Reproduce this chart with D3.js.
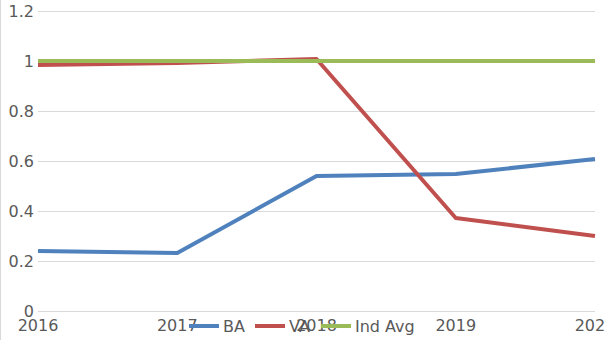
<!DOCTYPE html>
<html><head><meta charset="utf-8">
<script src="https://cdn.jsdelivr.net/npm/d3@7"></script>
<style>body{margin:0;background:#fff;overflow:hidden}svg{display:block}</style>
</head><body>
<svg id="c" width="605" height="340"></svg>
<script>
const years = [2016, 2017, 2018, 2019, 2020];
const baValues = [0.24, 0.232, 0.54, 0.548, 0.608];
const vaValues = [0.984, 0.992, 1.008, 0.372, 0.30];
const indAvgValues = [1, 1, 1, 1, 1];
const yTicks = [0, 0.2, 0.4, 0.6, 0.8, 1, 1.2];
const seriesNames = ["BA", "VA", "Ind Avg"];
const seriesColors = ["#4F81BD", "#C0504D", "#9BBB59"];

const svg = d3.select("#c");
const x = d3.scaleLinear().domain([2016, 2020]).range([38, 595]);
const y = d3.scaleLinear().domain([0, 1.2]).range([311, 11]);
const font = "DejaVu Sans, sans-serif";
const fs = 16;

svg.append("line").attr("x1",0.5).attr("x2",0.5).attr("y1",0).attr("y2",340).attr("stroke","#d9d9d9");

// gridlines
svg.append("g").selectAll("line").data(yTicks).join("line")
  .attr("x1", x(2016)).attr("x2", x(2020))
  .attr("y1", d => Math.round(y(d)) + 0.5).attr("y2", d => Math.round(y(d)) + 0.5)
  .attr("stroke", "#d9d9d9").attr("stroke-width", 1);

// y labels
svg.append("g").selectAll("text").data(yTicks).join("text")
  .attr("x", 34).attr("y", d => y(d) + 6)
  .attr("text-anchor", "end").attr("font-family", font).attr("font-size", fs)
  .attr("fill", "#595959").text(d => d);

// x labels
svg.append("g").selectAll("text").data(years).join("text")
  .attr("x", d => x(d)).attr("y", 331)
  .attr("text-anchor", "middle").attr("font-family", font).attr("font-size", fs)
  .attr("fill", "#595959").text(d => d);

const allSeries = [baValues, vaValues, indAvgValues];
const line = d3.line().x((d, i) => x(years[i])).y(d => y(d));
allSeries.forEach((vals, k) => {
  svg.append("path").attr("d", line(vals)).attr("fill", "none")
    .attr("stroke", seriesColors[k]).attr("stroke-width", 4).attr("stroke-linejoin", "round");
});

// legend
const legendX = [189, 255, 321];
const lg = svg.append("g");
seriesNames.forEach((n, k) => {
  lg.append("line").attr("x1", legendX[k]).attr("x2", legendX[k] + 30)
    .attr("y1", 326).attr("y2", 326).attr("stroke", seriesColors[k]).attr("stroke-width", 4);
  lg.append("text").attr("x", legendX[k] + 34).attr("y", 332)
    .attr("font-family", font).attr("font-size", fs).attr("fill", "#595959").text(n);
});
</script>
</body></html>
